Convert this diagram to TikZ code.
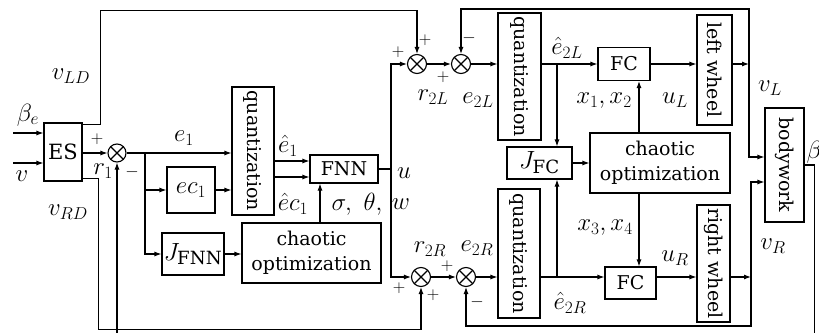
\documentclass[tikz,border=0pt]{standalone}
\usepackage{fontspec}
\setmainfont{DejaVu Serif}
\usetikzlibrary{arrows.meta, positioning, calc}

\begin{document}
\begin{tikzpicture}[x=1pt, y=-1pt, line width=1.1pt, >={Latex[length=7pt,width=5pt]},
  font=\fontsize{19}{25}\selectfont,
  blk/.style={draw, inner sep=1pt, align=center},
  mblk/.style={blk, font=\fontsize{26}{28}\selectfont},
  sumj/.style={draw, circle, minimum size=19pt, inner sep=0pt,
    path picture={\draw (path picture bounding box.south west) -- (path picture bounding box.north east)
      (path picture bounding box.north west) -- (path picture bounding box.south east);}},
  rot/.style={rotate=-90, inner sep=0pt},
  sgn/.style={inner sep=0pt, font=\fontsize{16}{16}\selectfont},
  lbl/.style={inner sep=0pt, font=\fontsize{24}{26}\selectfont}
]
  \useasboundingbox (0,0) rectangle (819,332);

  \node[blk, minimum width=38pt, minimum height=58pt, font=\fontsize{21}{23}\selectfont] (es) at (63,152) {ES};
  \node[sumj, minimum size=18pt] (s0) at (117,153) {};
  \node[blk, minimum width=42pt, minimum height=128pt, label={[rot]center:quantization}] (q1) at (253,151) {};
  \node[mblk, minimum width=48pt, minimum height=46pt] (ec) at (191,190) {$ec_1$};
  \node[mblk, minimum width=62pt, minimum height=42pt] (jfnn) at (193,254) {$J_{\mathrm{FNN}}$};
  \node[blk, minimum width=139pt, minimum height=60pt] (co1) at (311.5,253) {chaotic\\optimization};
  \node[blk, minimum width=68pt, minimum height=28pt] (fnn) at (344,169) {FNN};
  \node[sumj] (s1) at (417,64) {};
  \node[sumj] (s2) at (461,64) {};
  \node[sumj] (s4) at (421,277) {};
  \node[sumj] (s3) at (466,277) {};
  \node[blk, minimum width=43pt, minimum height=127pt, label={[rot]center:quantization}] (q2) at (519.5,76.5) {};
  \node[blk, minimum width=42pt, minimum height=129pt, label={[rot]center:quantization}] (q3) at (519,253.5) {};
  \node[blk, minimum width=52pt, minimum height=33pt] (fc1) at (624,64) {FC};
  \node[blk, minimum width=51pt, minimum height=32pt] (fc2) at (630.5,283) {FC};
  \node[mblk, minimum width=65pt, minimum height=32pt] (jfc) at (539.5,163) {$J_{\mathrm{FC}}$};
  \node[blk, minimum width=140pt, minimum height=60pt] (co2) at (660,163) {chaotic\\optimization};
  \node[blk, minimum width=35pt, minimum height=110pt, label={[rot]center:left wheel}] (lw) at (714.5,70) {};
  \node[blk, minimum width=33pt, minimum height=117pt, label={[rot]center:right wheel}] (rw) at (713.5,263.5) {};
  \node[blk, minimum width=39pt, minimum height=114pt, label={[rot]center:bodywork}] (bw) at (784.5,165) {};

  \coordinate (inb) at (13,133);
  \coordinate (inv) at (13,163);
  \draw[->] (inb) -- (inb -| es.west);
  \draw[->] (inv) -- (inv -| es.west);
  \draw[->] (es.east |- s0) -- (s0.west);
  \draw[->] ([yshift=-2pt]es.north east) -- ++(18,0) -- ++(0,-114) -| (s1.north);
  \draw[->] ([yshift=3pt]es.south east) -- ++(16,0) -- ++(0,151) -| (s4.south);
  \draw[->] (bw.east) -- ++(10,0) -- ++(0,169) -| (s0.south);
  \draw[->] (s0.east) -- (q1.west |- s0);
  \coordinate (b1) at (145,153);
  \draw[->] (b1) |- (ec.west);
  \draw[->] (b1) |- (jfnn.west);
  \draw[->] (ec.east) -- (q1.west |- ec.east);
  \draw[->] (jfnn.east) -- (co1.west |- jfnn.east);
  \coordinate (f1) at ([yshift=8pt]fnn.west);
  \coordinate (f2) at ([yshift=-8pt]fnn.west);
  \draw[->] (q1.east |- f1) -- (f1);
  \draw[->] (q1.east |- f2) -- (f2);
  \coordinate (c1) at ([xshift=8.5pt]co1.north);
  \draw[->] (c1) -- (c1 |- fnn.south);
  \coordinate (b2) at (391,169);
  \draw (fnn.east) -- (b2);
  \draw[->] (b2) |- (s1.west);
  \draw[->] (b2) |- (s4.west);
  \draw[->] (s1.east) -- (s2.west);
  \draw[->] (s2.east) -- (q2.west |- s2);
  \draw[->] (q2.east |- fc1) -- (fc1.west);
  \coordinate (b3) at (557,64);
  \draw[->] (b3) -- (b3 |- jfc.north);
  \coordinate (b4) at (557,277);
  \draw[->] (b4) -- (b4 |- jfc.south);
  \draw[->] (jfc.east) -- (co2.west |- jfc.east);
  \coordinate (xo) at (639,163);
  \draw[->] (xo |- co2.north) -- (xo |- fc1.south);
  \draw[->] (xo |- co2.south) -- (xo |- fc2.north);
  \draw[->] (fc1.east) -- (lw.west |- fc1.east);
  \coordinate (b5) at (749,64);
  \draw[->] (lw.east |- b5) -- (b5);
  \coordinate (bwl) at ([yshift=8pt]bw.west);
  \coordinate (bwr) at ([yshift=-17pt]bw.west);
  \draw[->] (b5) |- (bwl);
  \draw[->] (b5) -- ++(0,-55) -| (s2.north);
  \draw[->] (s4.east) -- (s3.west);
  \draw[->] (s3.east) -- (q3.west |- s3);
  \draw[->] (q3.east |- s3) -- (fc2.west |- s3);
  \draw[->] (fc2.east |- s3) -- (rw.west |- s3);
  \coordinate (b6) at (751,277);
  \draw[->] (rw.east |- b6) -- (b6);
  \draw[->] (b6) |- (bwr);
  \draw[->] (b6) -- ++(0,49) -| (s3.south);

  \node[lbl] (lbe) at (28,115) {$\beta_e$};
  \node[lbl] (lv) at (22,176) {$v$};
  \node[lbl] (lvld) at (71,76) {$v_{LD}$};
  \node[lbl] (lvrd) at (68,212) {$v_{RD}$};
  \node[lbl] (lr1) at (103,171) {$r_1$};
  \node[lbl] (le1) at (184,138) {$e_1$};
  \node[lbl] (lhe1) at (288,146) {$\hat e_1$};
  \node[lbl] (lhec) at (293,204) {$\hat e c_1$};
  \node[lbl] (lsig) at (357,204) {$\sigma,\ \theta,$};
  \node[lbl] (lw2) at (401,204) {$w$};
  \node[lbl] (lu) at (404,173) {$u$};
  \node[lbl] (lr2l) at (433,97) {$r_{2L}$};
  \node[lbl] (le2l) at (478,100) {$e_{2L}$};
  \node[lbl] (lhe2l) at (567,48) {$\hat e_{2L}$};
  \node[lbl] (lx12) at (604,101) {$x_1, x_2$};
  \node[lbl] (lul) at (675,100) {$u_L$};
  \node[lbl] (lvl) at (770,88) {$v_L$};
  \node[lbl] (lx34) at (605,228) {$x_3, x_4$};
  \node[lbl] (lur) at (675,258) {$u_R$};
  \node[lbl] (lvr) at (773,246) {$v_R$};
  \node[lbl] (lhe2r) at (570,303) {$\hat e_{2R}$};
  \node[lbl] (lr2r) at (430,249) {$r_{2R}$};
  \node[lbl] (le2r) at (477,248) {$e_{2R}$};
  \node[lbl, anchor=west] (lbeta) at (806,152) {$\beta$};

  \node[sgn] (p0) at (97,139) {$+$};
  \node[sgn] (m0) at (132,172) {$-$};
  \node[sgn] (p1a) at (398,52) {$+$};
  \node[sgn] (p1b) at (425,40) {$+$};
  \node[sgn] (p2) at (443,77) {$+$};
  \node[sgn] (m2) at (469,38) {$-$};
  \node[sgn] (p3) at (447,266) {$+$};
  \node[sgn] (m3) at (477,302) {$-$};
  \node[sgn] (p4a) at (399,288) {$+$};
  \node[sgn] (p4b) at (433,295) {$+$};
\end{tikzpicture}
\end{document}
